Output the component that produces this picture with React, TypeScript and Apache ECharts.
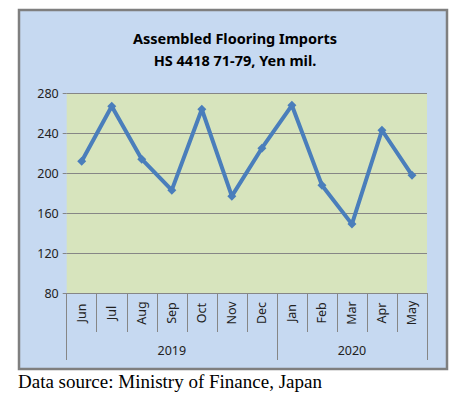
import React, { useEffect, useRef } from "react";
import * as echarts from "echarts";

const months = ["Jun", "Jul", "Aug", "Sep", "Oct", "Nov", "Dec", "Jan", "Feb", "Mar", "Apr", "May"];
const yearLabels = ["", "", "", "2019", "", "", "", "", "", "2020", "", ""];
const yearBoundaries = [0, 7, 12];
const imports = [212, 267, 214, 183, 264, 177, 225, 268, 188, 149, 243, 198];
const titleLines = ["Assembled Flooring Imports", "HS 4418 71-79, Yen mil."];
const sourceText = "Data source: Ministry of Finance, Japan";

const FONT = "'Noto Sans', 'Open Sans', sans-serif";

export default function App() {
  const ref = useRef<HTMLDivElement>(null);
  useEffect(() => {
    if (!ref.current) return;
    const chart = echarts.init(ref.current, null, { renderer: "svg" });
    chart.setOption({
      animation: false,
      backgroundColor: "#ffffff",
      graphic: [
        {
          type: "rect",
          z: -10,
          silent: true,
          shape: { x: 19, y: 10, width: 428, height: 359 },
          style: { fill: "#c6d9f1", stroke: "#7f7f7f", lineWidth: 2.5 },
        },
        ...titleLines.map((t, i) => ({
          type: "text",
          x: 235,
          y: 38 + i * 22,
          style: {
            text: t,
            font: `bold 14.5px ${FONT}`,
            fill: "#000",
            align: "center",
            verticalAlign: "middle",
          },
        })),
        {
          type: "text",
          x: 18,
          y: 381,
          style: {
            text: sourceText,
            font: "19px 'Liberation Serif', 'DejaVu Serif', serif",
            fill: "#000",
            verticalAlign: "middle",
          },
        },
      ],
      grid: { left: 66.7, right: 35, top: 93.3, bottom: 106, show: true, backgroundColor: "#d7e4bd", borderWidth: 0 },
      xAxis: [
        {
          type: "category",
          data: months,
          position: "bottom",
          boundaryGap: true,
          axisLine: { show: true, lineStyle: { color: "#868686", width: 1 } },
          axisTick: { show: true, interval: 0, length: 39, lineStyle: { color: "#868686" } },
          axisLabel: {
            interval: 0,
            rotate: 90,
            align: "center",
            verticalAlign: "middle",
            margin: 20,
            fontFamily: FONT,
            fontSize: 12.5,
            color: "#222",
          },
        },
        {
          type: "category",
          data: yearLabels,
          position: "bottom",
          offset: 39,
          boundaryGap: true,
          axisLine: { show: false },
          axisTick: {
            show: true,
            length: 28,
            interval: (i: number) => yearBoundaries.includes(i),
            lineStyle: { color: "#868686" },
          },
          axisLabel: {
            interval: 0,
            margin: 12,
            fontFamily: FONT,
            fontSize: 12.5,
            color: "#222",
          },
        },
      ],
      yAxis: {
        type: "value",
        min: 80,
        max: 280,
        interval: 40,
        axisLine: { show: false },
        axisTick: { show: true, length: 4, lineStyle: { color: "#868686" } },
        axisLabel: { fontFamily: FONT, fontSize: 12.5, color: "#222", margin: 8 },
        splitLine: { lineStyle: { color: "#868686", width: 1 } },
      },
      series: [
        {
          type: "line",
          data: imports,
          symbol: "diamond",
          symbolSize: 9,
          lineStyle: { color: "#4a7ebb", width: 4 },
          itemStyle: { color: "#4a7ebb" },
        },
      ],
    });
    return () => chart.dispose();
  }, []);
  return (
    <div
      ref={ref}
      style={{ position: "fixed", left: 0, top: 0, width: 462, height: 399 }}
    />
  );
}
